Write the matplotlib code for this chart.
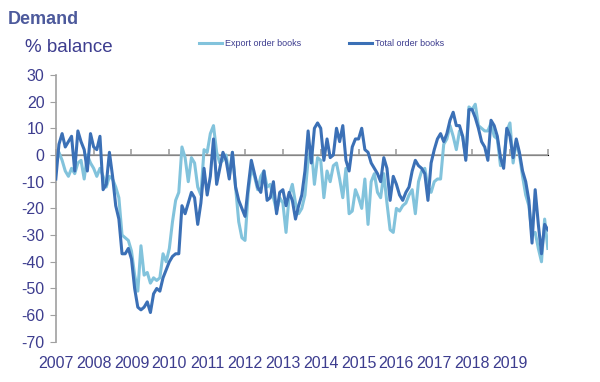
import matplotlib.pyplot as plt
import numpy as np

# monthly % balance, Jan 2007 .. Dec 2019 plus the point at the 2020 edge
export_books = [
    -3, 1, -2, -6, -8, -5, -7, -3, -2, -9, 0, -3,            # 2007
    -5, -8, -5, -8, -12, -8, -9, -12, -16, -30, -31, -32,     # 2008
    -36, -45, -51, -34, -45, -44, -48, -46, -47, -46, -37, -40,  # 2009
    -35, -25, -17, -14, 3, -1, -10, -1, -3, -12, -15, 2,      # 2010
    1, 8, 11, 1, -3, -2, 0, -8, 1, -12, -25, -31,             # 2011
    -32, -14, -5, -8, -13, -8, -6, -12, -11, -16, -21, -16,   # 2012
    -18, -29, -15, -11, -18, -22, -20, -15, -2, 3, -11, -1,   # 2013
    -2, -16, -6, -10, -4, -3, -9, -16, -5, -22, -21, -13,     # 2014
    -16, -20, -9, -26, -10, -7, -14, -16, -7, -18, -28, -29,  # 2015
    -20, -21, -19, -18, -15, -13, -22, -10, -6, -5, -12, -14,  # 2016
    -10, -9, -9, 4, 6, 11, 7, 2, 9, 7, -1, 18,                # 2017
    17, 19, 11, 10, 9, 9, 12, 7, 6, -4, -3, 9,                # 2018
    12, -3, 5, 0, -8, -15, -19, -30, -29, -35, -40, -24,      # 2019
    -35,
]
total_books = [
    -9, 4, 8, 3, 5, 7, -6, 9, 5, 2, -6, 8,                    # 2007
    3, 2, 7, -13, -11, 1, -8, -19, -24, -37, -37, -35,        # 2008
    -39, -50, -57, -58, -57, -55, -59, -52, -50, -51, -46, -43,  # 2009
    -40, -38, -37, -37, -19, -22, -18, -14, -16, -26, -18, -5,  # 2010
    -15, -8, 6, -11, -5, 1, -2, -9, 1, -12, -17, -20,         # 2011
    -23, -12, -2, -7, -12, -14, -6, -17, -16, -10, -22, -14,  # 2012
    -13, -19, -14, -17, -24, -19, -15, -6, 9, -3, 10, 12,     # 2013
    10, -2, 6, -1, 0, 10, 5, 11, -2, -6, 3, 6,                # 2014
    6, 10, 2, 1, -3, -5, -7, -10, -1, -5, -17, -8,            # 2015
    -11, -15, -17, -14, -12, -6, -2, -4, -5, -7, -17, -3,     # 2016
    2, 6, 8, 5, 8, 13, 16, 11, 11, 7, -2, 17,                 # 2017
    17, 14, 10, 5, 3, -2, 13, 11, 7, -1, -5, 10,              # 2018
    7, -1, 6, 1, -6, -10, -17, -33, -13, -26, -37, -26,       # 2019
    -28,
]
years = list(range(2007, 2020))
y_ticks = list(range(-70, 31, 10))

dates = 2007 + np.arange(len(total_books)) / 12.0

light = '#82c3dc'
dark = '#3b70b6'
txt = '#3d3d8f'
grey = '#a0a0a0'
plt.rcParams['font.family'] = ['Liberation Sans', 'DejaVu Sans']
plt.rcParams['axes.unicode_minus'] = False

fig = plt.figure(figsize=(6, 3.82), dpi=100)
ax = fig.add_axes([0.093, 0.105, 0.82, 0.699])

ax.axhline(0, color=grey, lw=1.2, zorder=1)
l1, = ax.plot(dates, export_books, color=light, lw=2.2, label='Export order books', zorder=2)
l2, = ax.plot(dates, total_books, color=dark, lw=2.2, label='Total order books', zorder=3)

ax.set_xlim(2007, 2020)
ax.set_ylim(-70, 30)
ax.set_yticks(y_ticks)
ax.set_xticks(years)
ax.set_xticklabels([str(y) for y in years])
ax.tick_params(axis='x', length=0, pad=10, labelsize=11.5, labelcolor=txt)
ax.tick_params(axis='y', length=4, color=grey, labelsize=11.5, labelcolor=txt, pad=4)

for s in ['top', 'right', 'bottom']:
    ax.spines[s].set_visible(False)
ax.spines['left'].set_color(grey)
ax.spines['left'].set_linewidth(1.2)

# year tick marks hang from the zero line
zero = ax.secondary_xaxis(0.7)
zero.set_xticks(years + [2020])
zero.set_xticklabels([])
zero.tick_params(axis='x', direction='out', length=4, width=1.2, color=grey)
zero.spines['bottom'].set_visible(False)

fig.text(0.013, 0.937, 'Demand', fontsize=13, fontweight='bold', color='#4d5a9c')
fig.text(0.042, 0.865, '% balance', fontsize=13.5, color=txt)

fig.legend(handles=[l1], loc='center left', bbox_to_anchor=(0.318, 0.885),
           frameon=False, fontsize=6.5, handlelength=2.6, handletextpad=0.3,
           labelcolor=txt)
fig.legend(handles=[l2], loc='center left', bbox_to_anchor=(0.568, 0.885),
           frameon=False, fontsize=6.5, handlelength=2.6, handletextpad=0.3,
           labelcolor=txt)

fig.savefig('out.png', dpi=100)
